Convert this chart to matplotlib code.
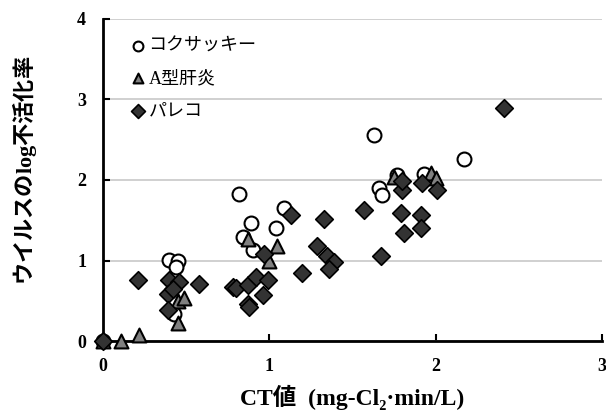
import matplotlib
matplotlib.use("Agg")
import matplotlib.pyplot as plt

# CT value (mg-Cl2*min/L) vs log inactivation for three viruses
cox_ct = [0.0, 0.40, 0.45, 0.44, 0.43, 0.82, 0.89, 0.84, 0.90, 1.04, 1.09,
          1.63, 1.66, 1.68, 1.77, 1.93, 2.17]
cox_log = [0.0, 1.01, 1.00, 0.92, 0.34, 1.83, 1.46, 1.29, 1.13, 1.40, 1.65,
           2.56, 1.90, 1.81, 2.06, 2.07, 2.26]

hav_ct = [0.0, 0.11, 0.22, 0.45, 0.45, 0.49, 0.87, 1.05, 1.00, 1.75, 1.97, 2.00]
hav_log = [0.0, 0.0, 0.08, 0.22, 0.50, 0.53, 1.27, 1.18, 1.00, 2.04, 2.09, 2.02]

par_ct = [0.0, 0.21, 0.40, 0.46, 0.39, 0.42, 0.39, 0.58, 0.78, 0.80, 0.87,
          0.92, 0.99, 0.96, 0.87, 0.88, 0.97, 1.13, 1.20, 1.29, 1.33, 1.35,
          1.39, 1.36, 1.57, 1.67, 1.79, 1.80, 1.80, 1.81, 1.91, 1.91, 1.92,
          2.01, 2.41]
par_log = [0.0, 0.76, 0.76, 0.73, 0.59, 0.65, 0.38, 0.71, 0.67, 0.66, 0.69,
           0.79, 0.76, 0.57, 0.46, 0.42, 1.08, 1.57, 0.84, 1.18, 1.51, 1.05,
           0.98, 0.90, 1.63, 1.05, 1.59, 1.88, 1.99, 1.34, 1.56, 1.40, 1.96,
           1.88, 2.89]

xticks = [0, 1, 2, 3]
yticks = [0, 1, 2, 3, 4]

jp = ['Noto Sans CJK JP', 'DejaVu Sans']
serif_jp = ['Liberation Serif', 'Noto Sans CJK JP']

# "log" in the y label is set in serif via mathtext
plt.rcParams['mathtext.fontset'] = 'custom'
plt.rcParams['mathtext.rm'] = 'Liberation Serif:bold'

fig = plt.figure(figsize=(6.06, 4.18), dpi=100)
ax = fig.add_axes([0.1695, 0.184, 0.824, 0.771])

ax.scatter(cox_ct, cox_log, s=100, marker='o', facecolor='white',
           edgecolor='black', linewidth=1.5, clip_on=False, zorder=3,
           label='コクサッキー')
ax.scatter(hav_ct, hav_log, s=100, marker='^', facecolor='#808080',
           edgecolor='black', linewidth=1.5, clip_on=False, zorder=4,
           label='A型肝炎')
ax.scatter(par_ct, par_log, s=80, marker='D', facecolor='#333333',
           edgecolor='black', linewidth=1.2, clip_on=False, zorder=5,
           label='パレコ')

ax.set_xlim(0, 3)
ax.set_ylim(0, 4)
ax.set_xticks(xticks)
ax.set_yticks(yticks)
ax.yaxis.grid(True, color='#c8c8c8', linewidth=1.2)
ax.set_axisbelow(True)

for s in ['top', 'right']:
    ax.spines[s].set_visible(False)
for s in ['left', 'bottom']:
    ax.spines[s].set_linewidth(2)
ax.tick_params(direction='in', length=5, width=1.5, pad=12)
for lab in ax.get_xticklabels() + ax.get_yticklabels():
    lab.set_family('Liberation Serif')
    lab.set_fontweight('bold')
    lab.set_fontsize(13)

ax.set_xlabel('CT値  (mg-Cl₂·min/L)', family=serif_jp, fontweight='bold',
              fontsize=17, labelpad=7)
ax.set_ylabel(r'ウイルスの$\mathrm{log}$不活化率', family=jp, fontweight='bold',
              fontsize=16)
ax.yaxis.set_label_coords(-0.128, 0.53)

leg = ax.legend(loc='upper left', bbox_to_anchor=(0.03, 0.975), frameon=False,
                prop={'family': serif_jp, 'size': 13}, handletextpad=0.0,
                handlelength=1.1, labelspacing=0.85, borderaxespad=0.2)
for h in leg.legend_handles:
    h.set_sizes([50])

fig.savefig('out.png', dpi=100)
